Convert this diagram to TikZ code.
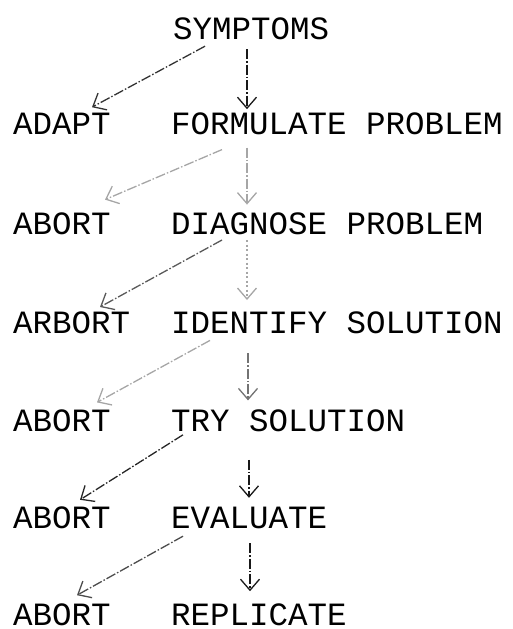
\documentclass[tikz,border=0pt]{standalone}
\usepackage{fontspec}
\newfontfamily\tw{Liberation Mono}
\usetikzlibrary{
  positioning,
  arrows.meta,
}
\tikzset{
  word/.style = {
    inner sep = 0pt,
    text height = 18pt,
    text depth = 0pt,
    font = \tw\fontsize{32.5pt}{36pt}\selectfont
  },
  link/.style = {
    -{Straight Barb[length = 11pt, width = 19pt]},
    line width = 1.3pt,
    color = #1,
    dash pattern = on 10pt off 2pt on 1.5pt off 2pt
  },
  dotty/.style = {
    dash pattern = on 2pt off 2.5pt
  }
}

\begin{document}
\begin{tikzpicture}
  \useasboundingbox (0,0) rectangle (513pt,-629pt);

  % Pasos.
  \node[word, anchor = base west] (Sym) at (173pt,-39pt) {SYMPTOMS};
  \node[word] (For) [below = 77pt of Sym.south west, anchor = north west, xshift = -2pt] {FORMULATE PROBLEM};
  \node[word] (Dia) [below = 82pt of For.south west, anchor = north west] {DIAGNOSE PROBLEM};
  \node[word] (Ide) [below = 80pt of Dia.south west, anchor = north west] {IDENTIFY SOLUTION};
  \node[word] (Try) [below = 80pt of Ide.south west, anchor = north west] {TRY SOLUTION};
  \node[word] (Eva) [below = 78pt of Try.south west, anchor = north west] {EVALUATE};
  \node[word] (Rep) [below = 79pt of Eva.south west, anchor = north west] {REPLICATE};

  % Salidas.
  \node[word, anchor = west] (Ada) at ([xshift = -158pt]For.west) {ADAPT};
  \node[word, anchor = west] (AbA) at ([xshift = -158pt]Dia.west) {ABORT};
  \node[word, anchor = west] (Arb) at ([xshift = -158pt]Ide.west) {ARBORT};
  \node[word, anchor = west] (AbB) at ([xshift = -158pt]Try.west) {ABORT};
  \node[word, anchor = west] (AbC) at ([xshift = -158pt]Eva.west) {ABORT};
  \node[word, anchor = west] (AbD) at ([xshift = -158pt]Rep.west) {ABORT};

  % Flechas verticales.
  \draw[link = black!90, shorten < = 10pt, shorten > = 7pt]
    ([xshift = 74pt]Sym.south west) -- ([xshift = 76pt]For.north west);
  \draw[link = black!35, shorten < = 13pt, shorten > = 12pt]
    ([xshift = 76pt]For.south west) -- ([xshift = 76pt]Dia.north west);
  \draw[link = black!35, dotty, shorten < = 5pt, shorten > = 15pt]
    ([xshift = 76pt]Dia.south west) -- ([xshift = 76pt]Ide.north west);
  \draw[link = black!55, shorten < = 20pt, shorten > = 13pt]
    ([xshift = 77pt]Ide.south west) -- ([xshift = 77pt]Try.north west);
  \draw[link = black!90, shorten < = 28pt, shorten > = 12pt]
    ([xshift = 78pt]Try.south west) -- ([xshift = 78pt]Eva.north west);
  \draw[link = black!90, shorten < = 15pt, shorten > = 16pt]
    ([xshift = 79pt]Eva.south west) -- ([xshift = 79pt]Rep.north west);

  % Flechas diagonales.
  \draw[link = black!80]
    ([xshift = 32pt, yshift = -7pt]Sym.south west) -- ([xshift = 79pt, yshift = 9pt]Ada.north west);
  \draw[link = black!35]
    ([xshift = 51pt, yshift = -15pt]For.south west) -- ([xshift = 92pt, yshift = 17pt]AbA.north west);
  \draw[link = black!65]
    ([xshift = 51pt, yshift = -5pt]Dia.south west) -- ([xshift = 87pt, yshift = 8pt]Arb.north west);
  \draw[link = black!35]
    ([xshift = 39pt, yshift = -7pt]Ide.south west) -- ([xshift = 84pt, yshift = 11pt]AbB.north west);
  \draw[link = black!85]
    ([xshift = 12pt, yshift = -3pt]Try.south west) -- ([xshift = 67pt, yshift = 10pt]AbC.north west);
  \draw[link = black!70]
    ([xshift = 12pt, yshift = -8pt]Eva.south west) -- ([xshift = 64pt, yshift = 12pt]AbD.north west);
\end{tikzpicture}
\end{document}
